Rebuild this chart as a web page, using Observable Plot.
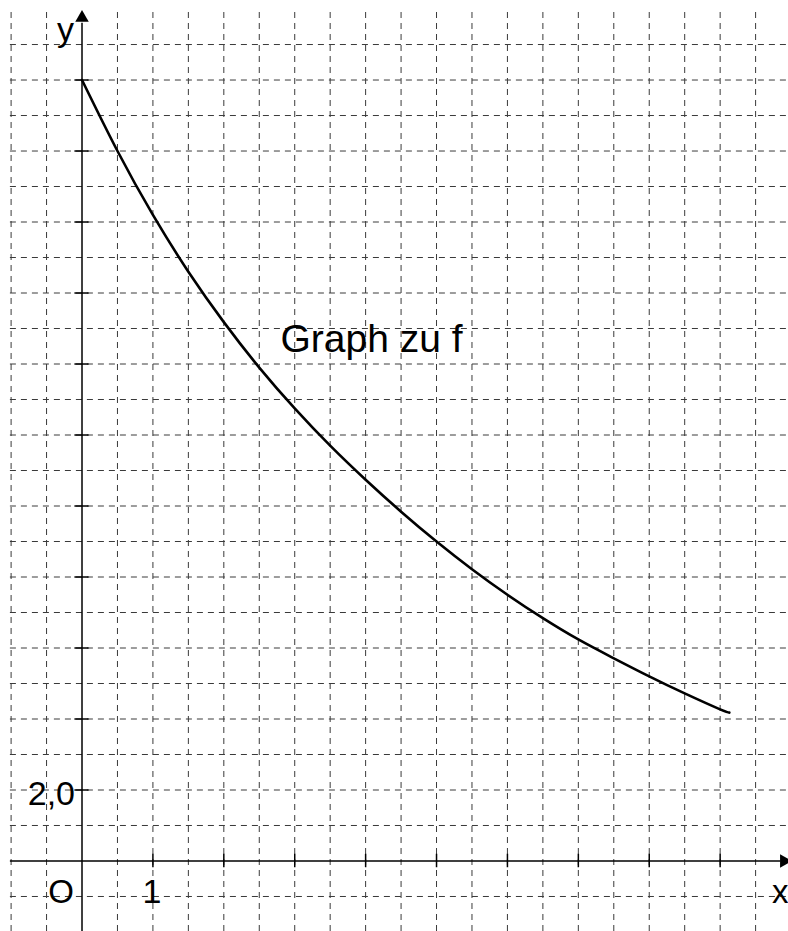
<!DOCTYPE html>
<html>
<head>
<meta charset="utf-8">
<script src="https://cdn.jsdelivr.net/npm/d3@7"></script>
<script src="https://cdn.jsdelivr.net/npm/@observablehq/plot@0.6"></script>
<style>
  html, body { margin: 0; padding: 0; background: #fff; }
  svg { display: block; }
</style>
</head>
<body>
<div id="chart"></div>
<script>
// Curve of f (at the grid columns)
const curveX = [0, 0.5, 1, 1.5, 2, 2.5, 3, 3.5, 4, 4.5, 5, 5.5, 6, 6.5, 7, 7.5, 8, 8.5, 9, 9.13];
const curveY = [22, 20.0, 18.2, 16.6, 15.18, 13.9, 12.75, 11.7, 10.74, 9.84, 9.0, 8.22, 7.5, 6.84, 6.24, 5.71, 5.2, 4.72, 4.27, 4.18];

// Grid (dashed) lines: every 0.5 in x, every 1 in y
const gridX = [-1, -0.5, 0.5, 1, 1.5, 2, 2.5, 3, 3.5, 4, 4.5, 5, 5.5, 6, 6.5, 7, 7.5, 8, 8.5, 9, 9.5];
const gridY = [-1, 1, 2, 3, 4, 5, 6, 7, 8, 9, 10, 11, 12, 13, 14, 15, 16, 17, 18, 19, 20, 21, 22, 23];

// Axis ticks
const ticksX = [1, 2, 3, 4, 5, 6, 7, 8, 9];
const ticksY = [2, 4, 6, 8, 10, 12, 14, 16, 18, 20, 22];

// Labels
const xTickLabel = [{v: 1, t: "1"}];
const yTickLabel = [{v: 2, t: "2,0"}];
const originLabel = "O";
const xAxisLabel = "x";
const yAxisLabel = "y";
const graphLabel = {x: 2.8, y: 14.7, t: "Graph zu f"};

// Domains
const xDomain = [-1.1495, 9.964];
const yDomain = [-1.986, 24.24];

const curve = curveX.map((x, i) => ({x, y: curveY[i]}));
const font = "Liberation Sans, Arial, Helvetica, sans-serif";
const dash = "6,5";
const gridColor = "#3a3a3a";

const chart = Plot.plot({
  width: 788,
  height: 931,
  marginTop: 0, marginRight: 0, marginBottom: 0, marginLeft: 0,
  x: {domain: xDomain, axis: null},
  y: {domain: yDomain, axis: null},
  style: {fontFamily: font, background: "#fff"},
  marks: [
    // dashed grid
    Plot.ruleX(gridX, {x: d => d, y1: yDomain[0], y2: 23.96, stroke: gridColor, strokeWidth: 1, strokeDasharray: dash}),
    Plot.ruleY(gridY, {y: d => d, x1: -1.01, x2: xDomain[1], stroke: gridColor, strokeWidth: 1, strokeDasharray: dash}),
    // axes
    Plot.ruleY([0], {x1: -1.01, x2: 9.86, stroke: "#000", strokeWidth: 1.5}),
    Plot.ruleX([0], {y1: yDomain[0], y2: 23.6, stroke: "#000", strokeWidth: 1.5}),
    // arrowheads
    Plot.dot([{x: 9.9, y: 0}], {x: "x", y: "y", symbol: "triangle", r: 5, rotate: 90, fill: "#000", stroke: null}),
    Plot.dot([{x: 0, y: 23.75}], {x: "x", y: "y", symbol: "triangle", r: 5, fill: "#000", stroke: null}),
    // ticks
    Plot.ruleX(ticksX, {x: d => d, y1: -0.19, y2: 0.19, stroke: "#000", strokeWidth: 1.5}),
    Plot.ruleY(ticksY, {y: d => d, x1: -0.1, x2: 0.1, stroke: "#000", strokeWidth: 1.5}),
    // curve
    Plot.line(curve, {x: "x", y: "y", curve: "natural", stroke: "#000", strokeWidth: 2.6, strokeLinecap: "round"}),
    // labels
    Plot.text(xTickLabel, {x: "v", y: 0, text: "t", fontSize: 34, dx: -1, dy: 31, fill: "#000"}),
    Plot.text(yTickLabel, {x: 0, y: "v", text: "t", fontSize: 34, textAnchor: "end", dx: -7, dy: 4, fill: "#000"}),
    Plot.text([originLabel], {x: 0, y: 0, text: d => d, fontSize: 33, dx: -21, dy: 31, fill: "#000"}),
    Plot.text([xAxisLabel], {x: xDomain[1], y: 0, text: d => d, fontSize: 33, textAnchor: "end", dx: 0, dy: 31, fill: "#000"}),
    Plot.text([yAxisLabel], {x: 0, y: 23, text: d => d, fontSize: 34, textAnchor: "end", dx: -8, dy: -14, fill: "#000"}),
    Plot.text([graphLabel], {x: "x", y: "y", text: "t", fontSize: 39, textAnchor: "start", fill: "#000"})
  ]
});
document.getElementById("chart").appendChild(chart);
</script>
</body>
</html>
